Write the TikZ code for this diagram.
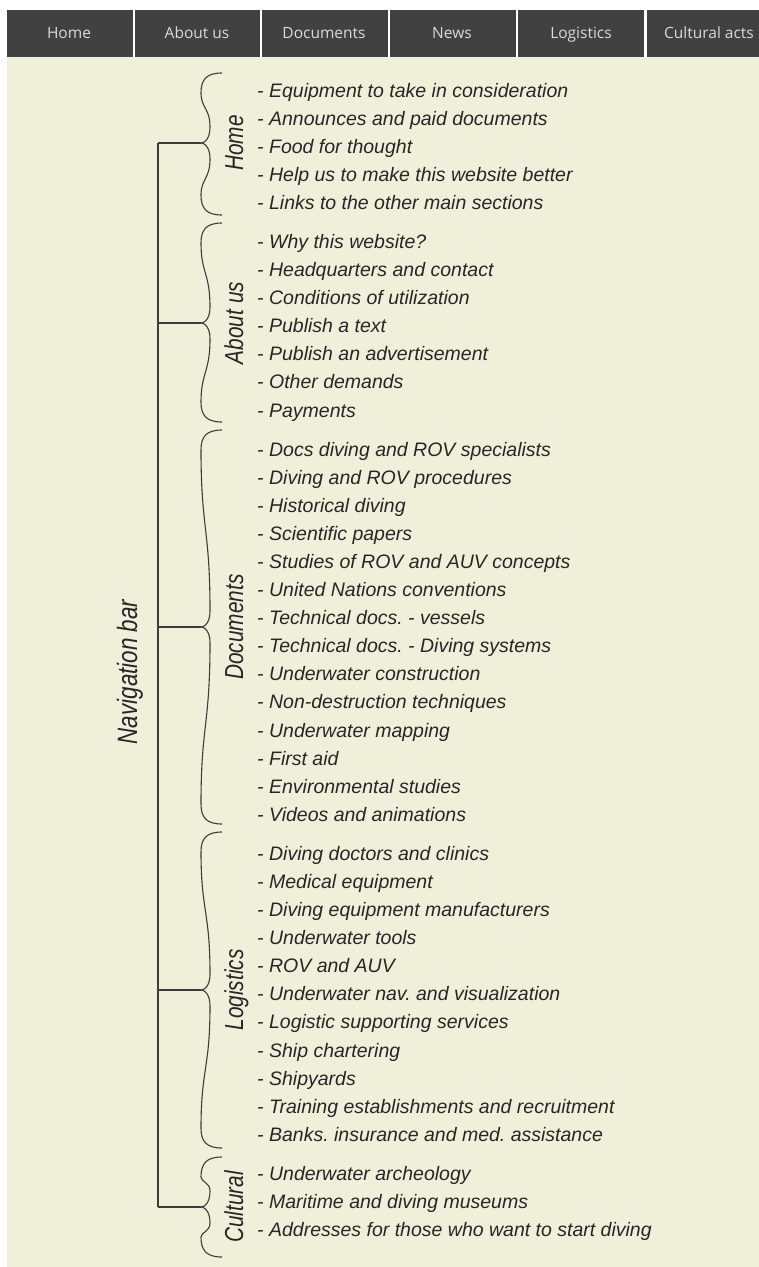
\documentclass[tikz,border=0pt]{standalone}
\usepackage{fontspec}
\newfontfamily\navfont{Open Sans}
\newfontfamily\hand{Liberation Sans}
\newfontfamily\labfont{Liberation Sans}[FakeStretch=0.8]
\definecolor{beige}{HTML}{F0F0DA}
\definecolor{navbg}{HTML}{414141}
\definecolor{navtx}{HTML}{DADADA}
\definecolor{ink}{HTML}{262626}
\definecolor{linec}{HTML}{3C3C3C}
\tikzset{
  navtext/.style={font=\navfont\fontsize{15.5}{18}\selectfont, text=navtx, anchor=base, inner sep=0pt},
  item/.style={font=\hand\itshape\frenchspacing\fontsize{19.5}{22}\selectfont, text=ink, anchor=base west, inner sep=0pt},
  grouplabel/.style={font=\labfont\itshape\fontsize{26}{28}\selectfont, text=ink, anchor=base, inner sep=0pt, rotate=90},
  bracestyle/.style={draw=linec, line width=1.1pt},
  trunk/.style={draw=linec, line width=1.8pt},
  branch/.style={draw=linec, line width=1.4pt},
}
\newcommand\mybrace[4]{%
  \draw[bracestyle] (222,#2) .. controls (206,#2) and (201,{#2+7}) .. (201,{#2+20})
    .. controls (201,{(#2+#3)/2}) and (210,{(#2+#3)/2}) .. (210,{#3-16})
    .. controls (210,{#3-6}) and (206,#3) .. (201,#3)
    .. controls (206,#3) and (210,{#3+6}) .. (210,{#3+16})
    .. controls (210,{(#3+#4)/2}) and (201,{(#3+#4)/2}) .. (201,{#4-20})
    .. controls (201,{#4-7}) and (206,#4) .. (222,#4);
  \coordinate (#1) at (201,#3);
}
\begin{document}
\begin{tikzpicture}[x=1pt,y=-1pt]
\useasboundingbox (0,0) rectangle (759,1267);
\fill[white] (0,0) rectangle (759,1267);
\fill[beige] (7,57) rectangle (759,1267);
% navigation bar
\fill[navbg] (7,10) rectangle (133,57);
\fill[navbg] (135,10) rectangle (260,57);
\fill[navbg] (262,10) rectangle (388,57);
\fill[navbg] (390,10) rectangle (516,57);
\fill[navbg] (518,10) rectangle (644,57);
\fill[navbg] (647,10) rectangle (759,57);
\node[navtext] (n1) at (69,38) {Home};
\node[navtext] (n2) at (197,38) {About us};
\node[navtext] (n3) at (324,38) {Documents};
\node[navtext] (n4) at (452,38) {News};
\node[navtext] (n5) at (581,38) {Logistics};
\node[navtext] (n6) at (709,38) {Cultural acts};
% items
\foreach \t [count=\i] in {Equipment to take in consideration, Announces and paid documents, Food for thought, Help us to make this website better, Links to the other main sections}
  \node[item] (h\i) at (257,{97+(\i-1)*28.1}) {- \t};
\foreach \t [count=\i] in {Why this website?, Headquarters and contact, Conditions of utilization, Publish a text, Publish an advertisement, Other demands, Payments}
  \node[item] (a\i) at (257,{248.4+(\i-1)*28.1}) {- \t};
\foreach \t [count=\i] in {Docs diving and ROV specialists, Diving and ROV procedures, Historical diving, Scientific papers, Studies of ROV and AUV concepts, United Nations conventions, Technical docs. - vessels, Technical docs. - Diving systems, Underwater construction, Non-destruction techniques, Underwater mapping, First aid, Environmental studies, Videos and animations}
  \node[item] (d\i) at (257,{456+(\i-1)*28.1}) {- \t};
\foreach \t [count=\i] in {Diving doctors and clinics, Medical equipment, Diving equipment manufacturers, Underwater tools, ROV and AUV, Underwater nav. and visualization, Logistic supporting services, Ship chartering, Shipyards, Training establishments and recruitment, Banks. insurance and med. assistance}
  \node[item] (l\i) at (257,{860.3+(\i-1)*28.1}) {- \t};
\foreach \t [count=\i] in {Underwater archeology, Maritime and diving museums, Addresses for those who want to start diving}
  \node[item] (c\i) at (257,{1180.3+(\i-1)*28.1}) {- \t};
% braces
\mybrace{tipH}{73}{143}{215}
\mybrace{tipA}{223}{323}{422}
\mybrace{tipD}{430}{627}{824}
\mybrace{tipL}{832}{990}{1148}
\mybrace{tipC}{1157}{1207}{1257}
% group labels
\node[grouplabel] (gH) at (243,143) {Home};
\node[grouplabel] (gA) at (243,323) {About us};
\node[grouplabel] (gD) at (243,627) {Documents};
\node[grouplabel] (gL) at (243,990) {Logistics};
\node[grouplabel] (gC) at (243,1207) {Cultural};
% trunk
\coordinate (trH) at (158,143);
\coordinate (trA) at (158,323);
\coordinate (trD) at (158,627);
\coordinate (trL) at (158,990);
\coordinate (trC) at (158,1207);
\draw[trunk] (trH) -- (trC);
\draw[branch] (trH) -- (tipH);
\draw[branch] (trA) -- (tipA);
\draw[branch] (trD) -- (tipD);
\draw[branch] (trL) -- (tipL);
\draw[branch] (trC) -- (tipC);
\node[grouplabel, font=\labfont\itshape\fontsize{28}{30}\selectfont] (nav) at (137,672) {Navigation bar};
\end{tikzpicture}
\end{document}
